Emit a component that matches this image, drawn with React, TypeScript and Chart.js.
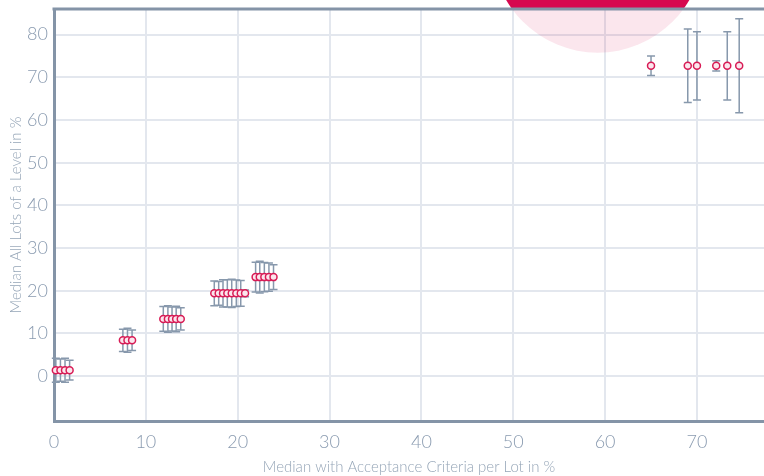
import React, { useEffect, useRef } from "react";
import { Chart, registerables } from "chart.js";

Chart.register(...registerables);

// Median with Acceptance Criteria per Lot in % (x) vs Median All Lots of a Level in % (y)
const X_VALUES = [
  0.2, 0.7, 1.2, 1.7,
  7.5, 8.0, 8.5,
  11.9, 12.4, 12.85, 13.3, 13.8,
  17.45, 17.93, 18.4, 18.87, 19.35, 19.85, 20.33, 20.8,
  21.95, 22.4, 22.9, 23.4, 23.9,
  65.0, 69.0, 70.0, 72.1, 73.3, 74.6,
];
const Y_VALUES = [
  1.4, 1.4, 1.4, 1.4,
  8.4, 8.4, 8.4,
  13.4, 13.4, 13.4, 13.4, 13.4,
  19.4, 19.4, 19.4, 19.4, 19.4, 19.4, 19.4, 19.4,
  23.2, 23.2, 23.2, 23.2, 23.2,
  72.7, 72.7, 72.7, 72.7, 72.7, 72.7,
];
const Y_ERRORS = [
  2.8, 2.6, 2.8, 2.3,
  2.6, 2.8, 2.4,
  2.9, 3.1, 2.8, 3.0, 2.6,
  2.9, 2.8, 3.2, 3.2, 3.3, 3.1, 3.0, 0.8,
  3.5, 3.7, 3.4, 3.3, 2.9,
  2.3, 8.6, 8.0, 1.2, 8.0, 11.0,
];
const X_TICKS = [0, 10, 20, 30, 40, 50, 60, 70];
const Y_TICKS = [0, 10, 20, 30, 40, 50, 60, 70, 80];
const HIGHLIGHT_X = 59.2;
const HIGHLIGHT_Y = 100.6;

const FONT = "Lato, 'Open Sans', sans-serif";
const AXIS_COLOR = "#8494a7";
const GRID_COLOR = "#e3e7ee";
const TICK_COLOR = "#8a9bb0";
const TITLE_COLOR = "#95a5b7";

const decorPlugin = {
  id: "decor",
  beforeDatasetsDraw(chart: any) {
    const { ctx, chartArea, scales } = chart;
    const xs = scales.x;
    const ys = scales.y;
    const cx = xs.getPixelForValue(HIGHLIGHT_X);
    const cy = ys.getPixelForValue(HIGHLIGHT_Y);
    const R = 106;
    ctx.save();
    ctx.beginPath();
    ctx.rect(chartArea.left, chartArea.top, chartArea.right - chartArea.left, chartArea.bottom - chartArea.top);
    ctx.clip();
    ctx.beginPath();
    ctx.arc(cx, cy, R, 0, Math.PI * 2);
    ctx.fillStyle = "rgba(214,8,79,0.1)";
    ctx.fill();
    ctx.restore();
    ctx.save();
    ctx.beginPath();
    ctx.rect(0, 0, chart.width, chartArea.top);
    ctx.clip();
    ctx.beginPath();
    ctx.arc(cx, cy, R, 0, Math.PI * 2);
    ctx.fillStyle = "#d6084f";
    ctx.fill();
    ctx.restore();
    ctx.save();
    ctx.strokeStyle = AXIS_COLOR;
    ctx.lineWidth = 3;
    ctx.beginPath();
    ctx.moveTo(chartArea.left - 1.5, chartArea.top);
    ctx.lineTo(chart.width, chartArea.top);
    ctx.stroke();
    ctx.restore();
    ctx.save();
    ctx.strokeStyle = "#8798ac";
    ctx.lineWidth = 1.5;
    for (let i = 0; i < X_VALUES.length; i++) {
      const px = xs.getPixelForValue(X_VALUES[i]);
      const top = ys.getPixelForValue(Y_VALUES[i] + Y_ERRORS[i]);
      const bot = ys.getPixelForValue(Y_VALUES[i] - Y_ERRORS[i]);
      ctx.beginPath();
      ctx.moveTo(px, top);
      ctx.lineTo(px, bot);
      ctx.moveTo(px - 4, top);
      ctx.lineTo(px + 4, top);
      ctx.moveTo(px - 4, bot);
      ctx.lineTo(px + 4, bot);
      ctx.stroke();
    }
    ctx.restore();
  },
};

export default function App() {
  const ref = useRef<HTMLCanvasElement | null>(null);
  useEffect(() => {
    if (!ref.current) return;
    const chart = new Chart(ref.current, {
      type: "scatter",
      data: {
        datasets: [
          {
            data: X_VALUES.map((x, i) => ({ x, y: Y_VALUES[i] })),
            pointRadius: 3.5,
            pointBorderWidth: 1.5,
            pointBorderColor: "#d81b55",
            pointBackgroundColor: "#fbe6ed",
            clip: false,
          },
        ],
      },
      options: {
        animation: false,
        responsive: false,
        layout: { autoPadding: false, padding: { top: 9, left: 0, right: 0, bottom: 0 } },
        plugins: { legend: { display: false }, tooltip: { enabled: false } },
        scales: {
          x: {
            type: "linear",
            min: 0,
            max: 77.3,
            afterBuildTicks: (axis: any) => {
              axis.ticks = X_TICKS.map((v) => ({ value: v }));
            },
            afterFit: (axis: any) => {
              axis.height = 55;
            },
            grid: { color: GRID_COLOR, lineWidth: 2, drawTicks: false },
            border: { color: AXIS_COLOR, width: 3 },
            ticks: { color: TICK_COLOR, padding: 10, font: { family: FONT, size: 18, weight: "300" } },
            title: {
              display: true,
              text: "Median with Acceptance Criteria per Lot in %",
              color: TITLE_COLOR,
              font: { family: FONT, size: 15, weight: "300" },
              padding: { top: 10, bottom: 0 },
            },
          },
          y: {
            type: "linear",
            min: -10.5,
            max: 86,
            afterBuildTicks: (axis: any) => {
              axis.ticks = Y_TICKS.map((v) => ({ value: v }));
            },
            afterFit: (axis: any) => {
              axis.width = 54;
            },
            grid: { color: GRID_COLOR, lineWidth: 2, drawTicks: false },
            border: { color: AXIS_COLOR, width: 3 },
            ticks: { color: TICK_COLOR, padding: 6, font: { family: FONT, size: 18, weight: "300", lineHeight: 0.3 } },
            title: {
              display: true,
              text: "Median All Lots of a Level in %",
              color: TITLE_COLOR,
              font: { family: FONT, size: 15, weight: "300" },
              padding: { top: 7, bottom: 4 },
            },
          },
        },
      },
      plugins: [decorPlugin],
    } as any);
    return () => chart.destroy();
  }, []);
  return (
    <div style={{ position: "fixed", left: 0, top: 0, width: 764, height: 476, overflow: "hidden", background: "#fff" }}>
      <canvas ref={ref} width={764} height={476} style={{ display: "block" }} />
    </div>
  );
}
